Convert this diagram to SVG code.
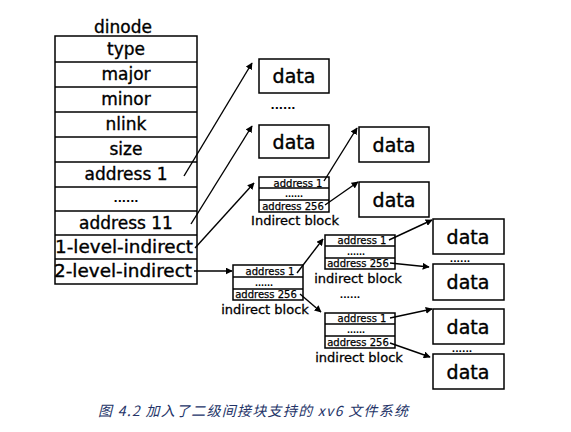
<svg xmlns="http://www.w3.org/2000/svg" width="571" height="432" viewBox="0 0 571 432">
<style>
.t{font-family:"DejaVu Sans",Verdana,sans-serif;fill:#000;text-anchor:middle}
.row{font-size:17px;stroke:#000;stroke-width:0.35}
.dat{font-size:19px;stroke:#000;stroke-width:0.4}
.sm{font-size:10px;stroke:#000;stroke-width:0.25}
.lbl{font-size:13px;stroke:#000;stroke-width:0.3}
.dots{font-size:11px;font-weight:bold}
.box{fill:#fff;stroke:#000;stroke-width:1.5}
.ln{stroke:#000;stroke-width:1.3}
.ar{stroke:#000;stroke-width:1.4;fill:none;marker-end:url(#ah)}
.cap{font-family:"Noto Sans CJK SC","DejaVu Sans",sans-serif;font-size:14px;font-style:italic;fill:#243468}
</style>
<defs>
<marker id="ah" viewBox="0 0 10 10" refX="9" refY="5" markerWidth="7" markerHeight="7" orient="auto" markerUnits="userSpaceOnUse">
<path d="M0,0 L10,5 L0,10 z" fill="#000"/>
</marker>
</defs>
<rect width="571" height="432" fill="#fff"/>

<g id="dinode">
<text class="t row" x="123" y="33">dinode</text>
<rect class="box" x="55" y="36" width="142" height="248"/>
<line class="ln" x1="55" y1="62" x2="197" y2="62"/>
<line class="ln" x1="55" y1="87" x2="197" y2="87"/>
<line class="ln" x1="55" y1="112" x2="197" y2="112"/>
<line class="ln" x1="55" y1="137" x2="197" y2="137" stroke-width="2"/>
<line class="ln" x1="55" y1="162" x2="197" y2="162" stroke-width="2"/>
<line class="ln" x1="55" y1="187" x2="197" y2="187"/>
<line class="ln" x1="55" y1="211" x2="197" y2="211"/>
<line class="ln" x1="55" y1="235" x2="197" y2="235" stroke-width="2"/>
<line class="ln" x1="55" y1="259" x2="197" y2="259" stroke-width="2.2"/>
<text class="t row" x="126" y="55">type</text>
<text class="t row" x="126" y="80">major</text>
<text class="t row" x="126" y="105">minor</text>
<text class="t row" x="126" y="130">nlink</text>
<text class="t row" x="126" y="155">size</text>
<text class="t row" x="126" y="180">address 1</text>
<text class="t dots" x="126" y="202">......</text>
<text class="t row" x="126" y="229">address 11</text>
<text class="t row" x="124" y="253" textLength="138" lengthAdjust="spacingAndGlyphs">1-level-indirect</text>
<text class="t row" x="123" y="277" textLength="138" lengthAdjust="spacingAndGlyphs">2-level-indirect</text>
</g>

<g id="data1"><rect class="box" x="259" y="59" width="70" height="34"/><text class="t dat" x="294" y="83">data</text></g>
<text class="t dots" x="283" y="109">......</text>
<g id="data2"><rect class="box" x="259" y="125" width="70" height="33"/><text class="t dat" x="294" y="149">data</text></g>
<g id="data3"><rect class="box" x="359" y="127" width="70" height="35"/><text class="t dat" x="394" y="152">data</text></g>
<g id="data4"><rect class="box" x="359" y="182" width="70" height="35"/><text class="t dat" x="394" y="207">data</text></g>

<g id="ind1">
<rect class="box" x="259" y="177" width="70" height="35"/>
<line class="ln" x1="259" y1="188" x2="329" y2="188"/>
<line class="ln" x1="259" y1="200" x2="329" y2="200"/>
<text class="t sm" x="298" y="187">address 1</text>
<text class="t dots" x="294" y="197" style="font-size:8px">......</text>
<text class="t sm" x="293" y="210">address 256</text>
<text class="t lbl" x="295" y="225">Indirect block</text>
</g>

<g id="ind2">
<rect class="box" x="233" y="265" width="70" height="35"/>
<line class="ln" x1="233" y1="277" x2="303" y2="277"/>
<line class="ln" x1="233" y1="289" x2="303" y2="289"/>
<text class="t sm" x="270" y="275">address 1</text>
<text class="t dots" x="264" y="286" style="font-size:8px">......</text>
<text class="t sm" x="266" y="298">address 256</text>
<text class="t lbl" x="265" y="314">indirect block</text>
</g>

<g id="ind3">
<rect class="box" x="325" y="235" width="70" height="34"/>
<line class="ln" x1="325" y1="246" x2="395" y2="246"/>
<line class="ln" x1="325" y1="258" x2="395" y2="258"/>
<text class="t sm" x="362" y="244">address 1</text>
<text class="t dots" x="356" y="255" style="font-size:8px">......</text>
<text class="t sm" x="358" y="267">address 256</text>
<text class="t lbl" x="358" y="283">indirect block</text>
</g>
<text class="t dots" x="350" y="298" style="font-size:9px">......</text>

<g id="ind4">
<rect class="box" x="325" y="313" width="70" height="35"/>
<line class="ln" x1="325" y1="324" x2="395" y2="324"/>
<line class="ln" x1="325" y1="336" x2="395" y2="336"/>
<text class="t sm" x="362" y="322">address 1</text>
<text class="t dots" x="356" y="333" style="font-size:8px">......</text>
<text class="t sm" x="358" y="346">address 256</text>
<text class="t lbl" x="359" y="362">indirect block</text>
</g>

<g id="dataA"><rect class="box" x="433" y="219" width="71" height="35"/><text class="t dat" x="468" y="244">data</text></g>
<text class="t dots" x="460" y="262" style="font-size:9px">......</text>
<g id="dataB"><rect class="box" x="433" y="264" width="71" height="36"/><text class="t dat" x="468" y="289">data</text></g>
<g id="dataC"><rect class="box" x="433" y="309" width="71" height="35"/><text class="t dat" x="468" y="334">data</text></g>
<text class="t dots" x="462" y="352" style="font-size:9px">......</text>
<g id="dataD"><rect class="box" x="433" y="354" width="71" height="35"/><text class="t dat" x="468" y="379">data</text></g>

<g id="connectors">
<line class="ar" x1="184" y1="176" x2="252" y2="63"/>
<line class="ar" x1="191" y1="224" x2="252" y2="126"/>
<line class="ar" x1="195" y1="248" x2="254" y2="183"/>
<line class="ar" x1="194" y1="271" x2="232" y2="271"/>
<line class="ar" x1="324" y1="181" x2="357" y2="128"/>
<line class="ar" x1="325" y1="205" x2="358" y2="182"/>
<line class="ar" x1="297" y1="273" x2="323" y2="239"/>
<line class="ar" x1="300" y1="294" x2="321" y2="312"/>
<line class="ar" x1="389" y1="240" x2="432" y2="220"/>
<line class="ar" x1="390" y1="263" x2="429" y2="267"/>
<line class="ar" x1="390" y1="318" x2="432" y2="309"/>
<line class="ar" x1="390" y1="343" x2="430" y2="357"/>
</g>

<text class="cap" x="98" y="416" textLength="310" lengthAdjust="spacing">图 4.2 加入了二级间接块支持的 xv6 文件系统</text>
</svg>
